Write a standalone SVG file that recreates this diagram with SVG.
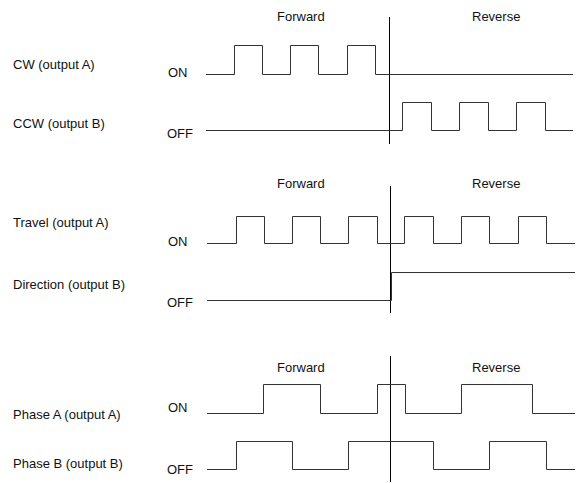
<svg xmlns="http://www.w3.org/2000/svg" width="577" height="483" viewBox="0 0 577 483">
<style>
text{font-family:"Liberation Sans",Arial,sans-serif;font-size:13px;fill:#111}
.w{fill:none;stroke:#333;stroke-width:1}
.d{fill:none;stroke:#000;stroke-width:1}
</style>
<rect width="577" height="483" fill="#fff"/>
<g id="panel1">
<text x="277" y="21">Forward</text>
<text x="472" y="21">Reverse</text>
<text x="13" y="69">CW (output A)</text>
<text x="13" y="128">CCW (output B)</text>
<text x="168" y="77">ON</text>
<text x="167" y="138">OFF</text>
</g>
<g id="panel2">
<text x="277" y="188">Forward</text>
<text x="472" y="188">Reverse</text>
<text x="13" y="227">Travel (output A)</text>
<text x="13" y="289">Direction (output B)</text>
<text x="168" y="246">ON</text>
<text x="167" y="307">OFF</text>
</g>
<g id="panel3">
<text x="277" y="372">Forward</text>
<text x="472" y="372">Reverse</text>
<text x="13" y="419">Phase A (output A)</text>
<text x="13" y="468">Phase B (output B)</text>
<text x="168" y="412">ON</text>
<text x="167" y="474">OFF</text>
</g>
<g id="connectors">
<path class="d" d="M389.5 17V144"/>
<path class="w" d="M206 74.5H234.5V45.5H262.5V74.5H290.5V45.5H318.5V74.5H347.5V45.5H375.5V74.5H573"/>
<path class="w" d="M206 130.5H402.5V102.5H431.5V130.5H459.5V102.5H488.5V130.5H516.5V102.5H545.5V130.5H573"/>
<path class="d" d="M390.5 186V313"/>
<path class="w" d="M207 243.5H236.5V216.5H264.5V243.5H292.5V216.5H320.5V243.5H348.5V216.5H377.5V243.5H404.5V216.5H433.5V243.5H461.5V216.5H489.5V243.5H518.5V216.5H546.5V243.5H575"/>
<path class="w" d="M207 300.5H391.5V272.5H575"/>
<path class="d" d="M390.5 356V482"/>
<path class="w" d="M207 413.5H263.5V384.5H320.5V413.5H377.5V384.5H405.5V413.5H461.5V384.5H532.5V413.5H575"/>
<path class="w" d="M207 469.5H236.5V441.5H292.5V469.5H348.5V441.5H433.5V469.5H489.5V441.5H546.5V469.5H575"/>
</g>
</svg>
